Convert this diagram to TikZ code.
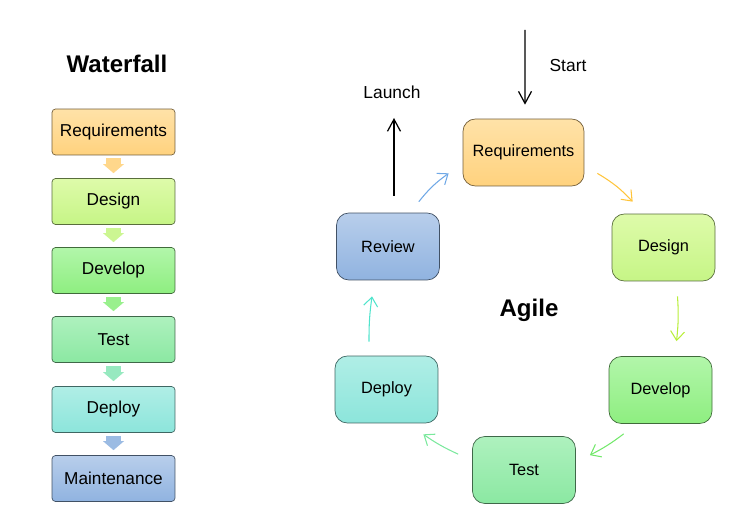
\documentclass[tikz,border=0pt]{standalone}
\usepackage{fontspec}
\setmainfont{Liberation Sans}
\usetikzlibrary{arrows.meta,calc}
\definecolor{reqt}{HTML}{FFE2A8}
\definecolor{reqb}{HTML}{FFD27E}
\definecolor{dest}{HTML}{DEFBAA}
\definecolor{desb}{HTML}{C6F586}
\definecolor{devt}{HTML}{B2F6AA}
\definecolor{devb}{HTML}{8EEE80}
\definecolor{test}{HTML}{AEF1BE}
\definecolor{tesb}{HTML}{8BE8A2}
\definecolor{dept}{HTML}{B0EEE6}
\definecolor{depb}{HTML}{8CE5DB}
\definecolor{revt}{HTML}{B8CEEB}
\definecolor{revb}{HTML}{90B3E0}
\definecolor{arr1}{HTML}{FFC43A}
\definecolor{arr2}{HTML}{B8EE3A}
\definecolor{arr3}{HTML}{72E86A}
\definecolor{arr4}{HTML}{7AE89C}
\definecolor{arr5}{HTML}{50E4CC}
\definecolor{arr6}{HTML}{6FA8E6}
\begin{document}
\begin{tikzpicture}[x=0.02cm, y=-0.02cm,
  >={Straight Barb[length=0.18cm,width=0.28cm]},
  every node/.style={font=\fontsize{9.3}{11}\selectfont},
  wbox/.style={draw=#1b!45!black, top color=#1t, bottom color=#1b, rounded corners=2pt,
    minimum width=2.46cm, minimum height=0.92cm, font=\fontsize{9.8}{12}\selectfont},
  abox/.style={draw=#1b!45!black, top color=#1t, bottom color=#1b, rounded corners=7pt,
    minimum width=2.06cm, minimum height=1.34cm},
  blk/.style={draw=#1, line width=0.3cm, -{Triangle[length=0.18cm,width=0.42cm,line width=0pt]}},
  cyc/.style={draw=#1, line width=0.6pt, ->},
  big/.style={line width=0.7pt, -{Straight Barb[length=0.24cm,width=0.26cm]}},
  title/.style={font=\fontsize{13.7}{16}\selectfont\bfseries}]
\useasboundingbox (0,0) rectangle (753,530);

% waterfall
\node[title] (wtitle) at (117,64) {Waterfall};
\node[wbox=req] (w1) at (113.5,132) {Requirements};
\node[wbox=des] (w2) at (113.5,201.5) {Design};
\node[wbox=dev] (w3) at (113.5,270.5) {Develop};
\node[wbox=tes] (w4) at (113.5,339.5) {Test};
\node[wbox=dep] (w5) at (113.5,409.5) {Deploy};
\node[wbox=rev] (w6) at (113.5,478.5) {Maintenance};
\draw[blk=reqb!90!white] ($(w1.south)+(0,3)$) -- ($(w2.north)+(0,-5)$);
\draw[blk=desb!90!white] ($(w2.south)+(0,3)$) -- ($(w3.north)+(0,-5)$);
\draw[blk=devb!90!white] ($(w3.south)+(0,3)$) -- ($(w4.north)+(0,-5)$);
\draw[blk=tesb!60!depb!90!white] ($(w4.south)+(0,3)$) -- ($(w5.north)+(0,-5)$);
\draw[blk=revb!90!white] ($(w5.south)+(0,3)$) -- ($(w6.north)+(0,-5)$);

% agile
\node[title] (atitle) at (529,310) {Agile};
\node[abox=req, minimum width=2.42cm] (req) at (523.5,152.5) {Requirements};
\node[abox=des] (design) at (663.5,247.5) {Design};
\node[abox=dev] (develop) at (660.5,390) {Develop};
\node[abox=tes] (test) at (524,470) {Test};
\node[abox=dep] (deploy) at (386.5,389.5) {Deploy};
\node[abox=rev] (review) at (388,246.5) {Review};

\draw[cyc=arr1] ($(req.south east)+(13,-13)$) to[bend left=8] ($(design.north west)+(21,-12)$);
\draw[cyc=arr2] ($(design.south)+(14,15)$) to[bend left=5] ($(develop.north)+(16,-15)$);
\draw[cyc=arr3] ($(develop.south west)+(15,10)$) to[bend left=5] ($(test.north east)+(14,19)$);
\draw[cyc=arr4] ($(test.north west)+(-14,18)$) to[bend left=5] ($(deploy.south east)+(-15,11)$);
\draw[cyc=arr5] ($(deploy.north)+(-17.5,-14)$) to[bend left=4] ($(review.south)+(-16,16)$);
\draw[cyc=arr6] ($(review.north east)+(-21,-11)$) to[bend left=8] ($(req.south west)+(-14,-13)$);

\coordinate (start) at (525,30);
\coordinate (launch) at (394,118);
\draw[big] (start) -- ($(req.north)+(1.5,-14)$);
\draw[big] ($(review.north)+(6,-17)$) -- (launch);
\node[font=\fontsize{9.9}{12}\selectfont] (startlbl) at (568,66) {Start};
\node[font=\fontsize{9.9}{12}\selectfont] (launchlbl) at (392,92) {Launch};
\end{tikzpicture}
\end{document}
